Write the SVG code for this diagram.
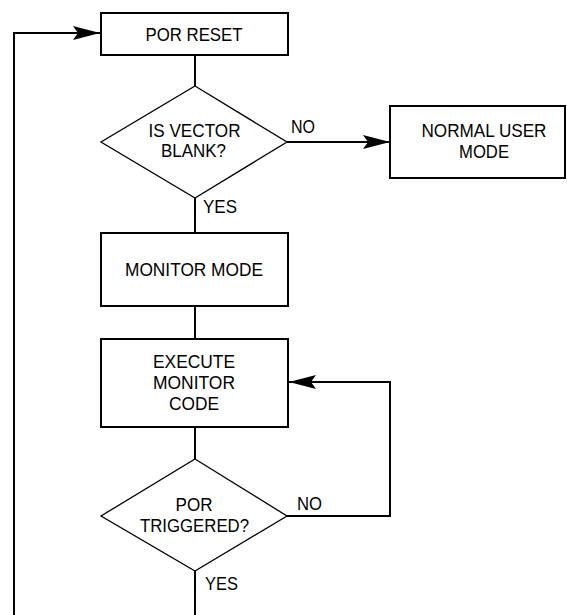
<svg xmlns="http://www.w3.org/2000/svg" width="567" height="615" viewBox="0 0 567 615">
<defs>
<style>
.box{fill:#fff;stroke:#000;stroke-width:2}
.dia{fill:#fff;stroke:#000;stroke-width:1.3}
.ln{fill:none;stroke:#000;stroke-width:2}
text{font-family:"Liberation Sans",Arial,sans-serif;font-size:19px;fill:#000}
.c{text-anchor:middle}
</style>
<marker id="ah" markerUnits="userSpaceOnUse" markerWidth="30" markerHeight="16" viewBox="-28 -8 30 16" refX="0" refY="0" orient="auto">
<path d="M0,0 L-27,-7 L-22,0 L-27,7 Z" fill="#000"/>
</marker>
</defs>
<g id="connectors">
<line class="ln" x1="195" y1="55" x2="195" y2="86"/>
<line class="ln" x1="287" y1="142" x2="390" y2="142" marker-end="url(#ah)"/>
<line class="ln" x1="195" y1="198" x2="195" y2="233"/>
<line class="ln" x1="195" y1="306" x2="195" y2="339"/>
<line class="ln" x1="195" y1="427" x2="195" y2="459"/>
<polyline class="ln" points="287,516 390,516 390,382 289,382" marker-end="url(#ah)"/>
<line class="ln" x1="195" y1="571" x2="195" y2="615"/>
<polyline class="ln" points="14,615 14,33 100,33" marker-end="url(#ah)"/>
<text x="291" y="133" textLength="24" lengthAdjust="spacingAndGlyphs">NO</text>
<text x="203" y="213" textLength="34" lengthAdjust="spacingAndGlyphs">YES</text>
<text x="297" y="510" textLength="25" lengthAdjust="spacingAndGlyphs">NO</text>
<text x="205" y="590" textLength="33" lengthAdjust="spacingAndGlyphs">YES</text>
</g>
<g id="por-reset">
<rect class="box" x="101" y="13" width="187" height="42"/>
<text class="c" x="194" y="41" textLength="97" lengthAdjust="spacingAndGlyphs">POR RESET</text>
</g>
<g id="is-vector-blank">
<polygon class="dia" points="195,86 287,142 195,198 101,142"/>
<text class="c" x="194.5" y="137" textLength="92" lengthAdjust="spacingAndGlyphs">IS VECTOR</text>
<text class="c" x="193.5" y="157" textLength="65" lengthAdjust="spacingAndGlyphs">BLANK?</text>
</g>
<g id="normal-user-mode">
<rect class="box" x="390" y="106" width="175" height="72"/>
<text class="c" x="484" y="137" textLength="125" lengthAdjust="spacingAndGlyphs">NORMAL USER</text>
<text class="c" x="484" y="158" textLength="50" lengthAdjust="spacingAndGlyphs">MODE</text>
</g>
<g id="monitor-mode">
<rect class="box" x="101" y="233" width="187" height="73"/>
<text class="c" x="194" y="276" textLength="138" lengthAdjust="spacingAndGlyphs">MONITOR MODE</text>
</g>
<g id="execute-monitor-code">
<rect class="box" x="101" y="339" width="187" height="88"/>
<text class="c" x="194" y="368" textLength="82" lengthAdjust="spacingAndGlyphs">EXECUTE</text>
<text class="c" x="194" y="389" textLength="82" lengthAdjust="spacingAndGlyphs">MONITOR</text>
<text class="c" x="194" y="410" textLength="50" lengthAdjust="spacingAndGlyphs">CODE</text>
</g>
<g id="por-triggered">
<polygon class="dia" points="195,459 287,516 195,571 101,516"/>
<text class="c" x="194" y="511" textLength="37" lengthAdjust="spacingAndGlyphs">POR</text>
<text class="c" x="194.5" y="532" textLength="109" lengthAdjust="spacingAndGlyphs">TRIGGERED?</text>
</g>
</svg>
